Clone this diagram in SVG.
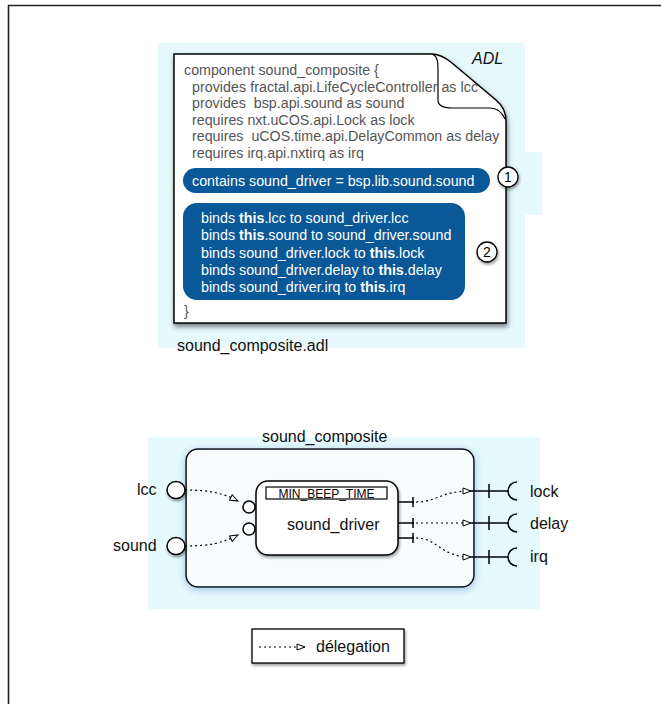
<svg xmlns="http://www.w3.org/2000/svg" width="661" height="704" viewBox="0 0 661 704">
  <style>
    .doc { font-family: "Liberation Sans", Arial, sans-serif; font-size: 14.25px; fill: #555; }
    .code { font-family: "Liberation Sans", Arial, sans-serif; font-size: 14.25px; fill: #fff; }
    .lbl { font-family: "Liberation Sans", Arial, sans-serif; font-size: 16px; fill: #111; }
    .pill { fill: #0a5897; }
    .badge { fill: #fff; stroke: #000; stroke-width: 1.3; }
    .num { font-family: "Liberation Sans", Arial, sans-serif; font-size: 14px; fill: #000; text-anchor: middle; }
    .dot { fill: none; stroke: #000; stroke-width: 1.2; stroke-dasharray: 2 3; }
    .solid { fill: none; stroke: #000; stroke-width: 1.5; }
    .port { fill: #fff; stroke: #000; stroke-width: 1.5; }
    .zone { fill: #e6fafd; }
  </style>
  <defs>
    <filter id="docShadow" x="-10%" y="-10%" width="120%" height="125%">
      <feDropShadow dx="1" dy="3" stdDeviation="2.5" flood-color="#000" flood-opacity="0.5"/>
    </filter>
    <filter id="glow" x="-15%" y="-20%" width="130%" height="140%">
      <feDropShadow dx="0" dy="2" stdDeviation="4" flood-color="#6f9bd1" flood-opacity="0.6"/>
    </filter>
    <filter id="soft" x="-30%" y="-30%" width="160%" height="160%">
      <feDropShadow dx="1" dy="2" stdDeviation="1.5" flood-color="#000" flood-opacity="0.4"/>
    </filter>
    <marker id="open" markerUnits="userSpaceOnUse" markerWidth="12" markerHeight="10" refX="9" refY="4" orient="auto">
      <path d="M1,1 L9,4 L1,7 Z" fill="#fff" stroke="#000" stroke-width="1"/>
    </marker>
  </defs>

  <!-- page frame -->
  <path d="M8.5,704 V5.5 H661" fill="none" stroke="#222" stroke-width="1.6"/>

  <!-- ADL file -->
  <g id="adl-file">
    <path class="zone" d="M158,43 H525 V152 H542 V215 H525 V348 H158 Z"/>
    <path d="M174,54 H431 C440,54 446,58 452,63 L496,100 C502,105 506,112 506,121 V323 H174 Z" fill="#fff" stroke="#000" stroke-width="1.5" filter="url(#docShadow)"/>
    <path d="M433,54.5 C438,57 438,64 438,70 V100 C438,105 443,108 452,108 H490 C497,108 502,112 505,119" fill="#fff" stroke="#000" stroke-width="1.2"/>
    <text x="472" y="64" class="lbl" font-style="italic">ADL</text>

    <text class="doc" x="184" y="75">component sound_composite {</text>
    <text class="doc" x="192" y="91.5" textLength="286" lengthAdjust="spacing" xml:space="preserve">provides fractal.api.LifeCycleController as lcc</text>
    <text class="doc" x="192" y="108" xml:space="preserve">provides  bsp.api.sound as sound</text>
    <text class="doc" x="192" y="124.5" xml:space="preserve">requires nxt.uCOS.api.Lock as lock</text>
    <text class="doc" x="192" y="141" xml:space="preserve">requires  uCOS.time.api.DelayCommon as delay</text>
    <text class="doc" x="192" y="157.5">requires irq.api.nxtirq as irq</text>

    <rect class="pill" x="183" y="168" width="307" height="25" rx="12.5"/>
    <text class="code" x="192" y="185.5">contains sound_driver = bsp.lib.sound.sound</text>

    <rect class="pill" x="183" y="203" width="282" height="97" rx="14"/>
    <text class="code" x="201" y="223">binds <tspan font-weight="bold">this</tspan>.lcc to sound_driver.lcc</text>
    <text class="code" x="201" y="240">binds <tspan font-weight="bold">this</tspan>.sound to sound_driver.sound</text>
    <text class="code" x="201" y="257.5">binds sound_driver.lock to <tspan font-weight="bold">this</tspan>.lock</text>
    <text class="code" x="201" y="275">binds sound_driver.delay to <tspan font-weight="bold">this</tspan>.delay</text>
    <text class="code" x="201" y="292">binds sound_driver.irq to <tspan font-weight="bold">this</tspan>.irq</text>

    <text class="doc" x="184" y="316" fill="#888">}</text>

    <text class="lbl" x="177" y="351" font-size="16.5px">sound_composite.adl</text>
  </g>

  <g id="badge-1">
    <circle class="badge" cx="508" cy="177" r="10" filter="url(#soft)"/>
    <text class="num" x="508" y="182">1</text>
  </g>
  <g id="badge-2">
    <circle class="badge" cx="487" cy="252" r="10" filter="url(#soft)"/>
    <text class="num" x="487" y="257">2</text>
  </g>

  <!-- architecture view -->
  <rect class="zone" x="148" y="437" width="392" height="172"/>

  <g id="sound_composite">
    <text class="lbl" x="262" y="442">sound_composite</text>
    <rect x="186" y="449" width="288" height="138" rx="12" fill="#f7fdff" stroke="#000" stroke-width="1.5" filter="url(#glow)"/>
  </g>

  <g id="sound_driver">
    <rect x="256" y="481" width="142" height="74" rx="12" fill="#fff" stroke="#000" stroke-width="1.5" filter="url(#soft)"/>
    <rect x="266" y="487" width="121" height="12" fill="#fff" stroke="#000" stroke-width="1.2"/>
    <text x="326.5" y="498" font-family="Liberation Sans, Arial, sans-serif" font-size="12px" text-anchor="middle" fill="#000">MIN_BEEP_TIME</text>
    <text class="lbl" x="287" y="530" font-size="16.5px">sound_driver</text>
    <!-- server interfaces -->
    <circle class="port" cx="249" cy="507" r="6"/>
    <circle class="port" cx="249" cy="529" r="6"/>
    <!-- client interfaces -->
    <path class="solid" d="M398,502 H414 M413,497 V507"/>
    <path class="solid" d="M398,523 H414 M413,518 V528"/>
    <path class="solid" d="M398,538 H414 M413,533 V543"/>
  </g>

  <g id="port-lcc">
    <ellipse class="port" cx="176" cy="490" rx="9" ry="8.5" filter="url(#soft)"/>
    <text class="lbl" x="137" y="495">lcc</text>
  </g>
  <g id="port-sound">
    <ellipse class="port" cx="176" cy="546" rx="9" ry="8.5" filter="url(#soft)"/>
    <text class="lbl" x="113" y="551">sound</text>
  </g>

  <g id="port-lock">
    <path class="solid" d="M471,491 H508 M489,484 V498"/>
    <path class="solid" d="M517,482 A9,9 0 0 0 517,500"/>
    <text class="lbl" x="530" y="497">lock</text>
  </g>
  <g id="port-delay">
    <path class="solid" d="M471,523 H508 M489,516 V530"/>
    <path class="solid" d="M517,514 A9,9 0 0 0 517,532"/>
    <text class="lbl" x="530" y="529">delay</text>
  </g>
  <g id="port-irq">
    <path class="solid" d="M471,557 H508 M489,550 V564"/>
    <path class="solid" d="M517,548 A9,9 0 0 0 517,566"/>
    <text class="lbl" x="530" y="562">irq</text>
  </g>

  <!-- delegation bindings -->
  <g id="connectors">
    <path class="dot" d="M185,490 C210,490 222,493 238,501" marker-end="url(#open)"/>
    <path class="dot" d="M185,546 C210,546 222,543 238,535" marker-end="url(#open)"/>
    <path class="dot" d="M416,502 C438,502 440,491 471,491" marker-end="url(#open)"/>
    <path class="dot" d="M416,523 H471" marker-end="url(#open)"/>
    <path class="dot" d="M416,538 C438,538 440,557 471,557" marker-end="url(#open)"/>
  </g>

  <!-- legend -->
  <g id="legend">
    <rect x="252" y="629" width="152" height="34" fill="#fff" stroke="#000" stroke-width="1.3" filter="url(#soft)"/>
    <path class="dot" d="M259,647 H305" marker-end="url(#open)"/>
    <text class="lbl" x="316" y="652" font-size="17px">délegation</text>
  </g>
</svg>
